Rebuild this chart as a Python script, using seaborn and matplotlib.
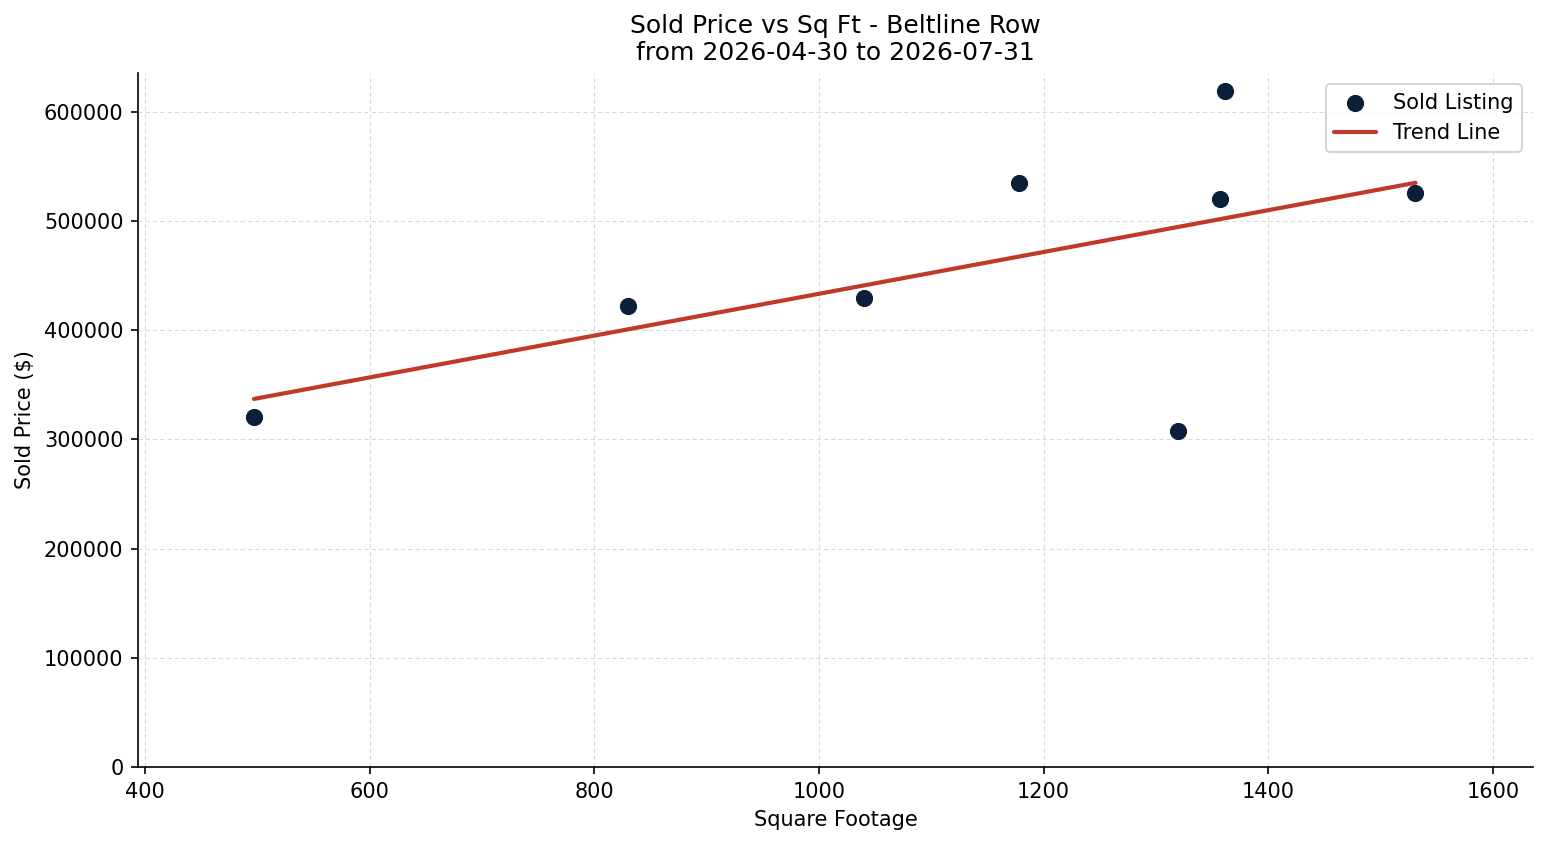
import numpy as np
import pandas as pd
import matplotlib
matplotlib.use("Agg")
import matplotlib.pyplot as plt
import seaborn as sns

sqft = [497, 830, 1040, 1178, 1320, 1357, 1361, 1531]
price = [321000, 422000, 430000, 535000, 308000, 520000, 619000, 526000]

title = "Sold Price vs Sq Ft - Beltline Row\nfrom 2026-04-30 to 2026-07-31"
xlabel = "Square Footage"
ylabel = "Sold Price ($)"

df = pd.DataFrame({"sqft": sqft, "price": price})

sns.set_style("ticks")
plt.rcParams['font.family'] = ['DejaVu Sans']
plt.rcParams.update({
    "text.color": "black", "axes.labelcolor": "black",
    "xtick.color": "black", "ytick.color": "black",
    "axes.edgecolor": "black",
})

DPI = 150
fig, ax = plt.subplots(figsize=(1547 / DPI, 845 / DPI), dpi=DPI)
fig.subplots_adjust(left=138 / 1547, right=1533 / 1547, bottom=1 - 767 / 845, top=1 - 73 / 845)

sns.scatterplot(data=df, x="sqft", y="price", ax=ax, color="#0b1f3a", s=60,
                edgecolor="#0b1f3a", linewidth=0.5, label="Sold Listing", zorder=3)

coef = np.polyfit(df["sqft"], df["price"], 1)
xs = np.array([min(sqft), max(sqft)])
line_df = pd.DataFrame({"sqft": xs, "price": np.polyval(coef, xs)})
sns.lineplot(data=line_df, x="sqft", y="price", ax=ax, color="#c0392b", linewidth=2,
             label="Trend Line", zorder=2)

ax.set_xlim(393.8, 1635.6)
ax.set_ylim(0, 635700)
ax.ticklabel_format(style="plain", axis="y")
ax.grid(True, linestyle=(0, (4, 3)), linewidth=0.5, color="#d8d8d8")
ax.set_axisbelow(True)
sns.despine(ax=ax)
ax.set_title(title, fontsize=12)
ax.set_xlabel(xlabel, fontsize=10)
ax.set_ylabel(ylabel, fontsize=10)
ax.tick_params(labelsize=10, color="black")
ax.legend(loc="upper right", fontsize=10, borderaxespad=0.55)

fig.savefig("out.png", dpi=DPI)
